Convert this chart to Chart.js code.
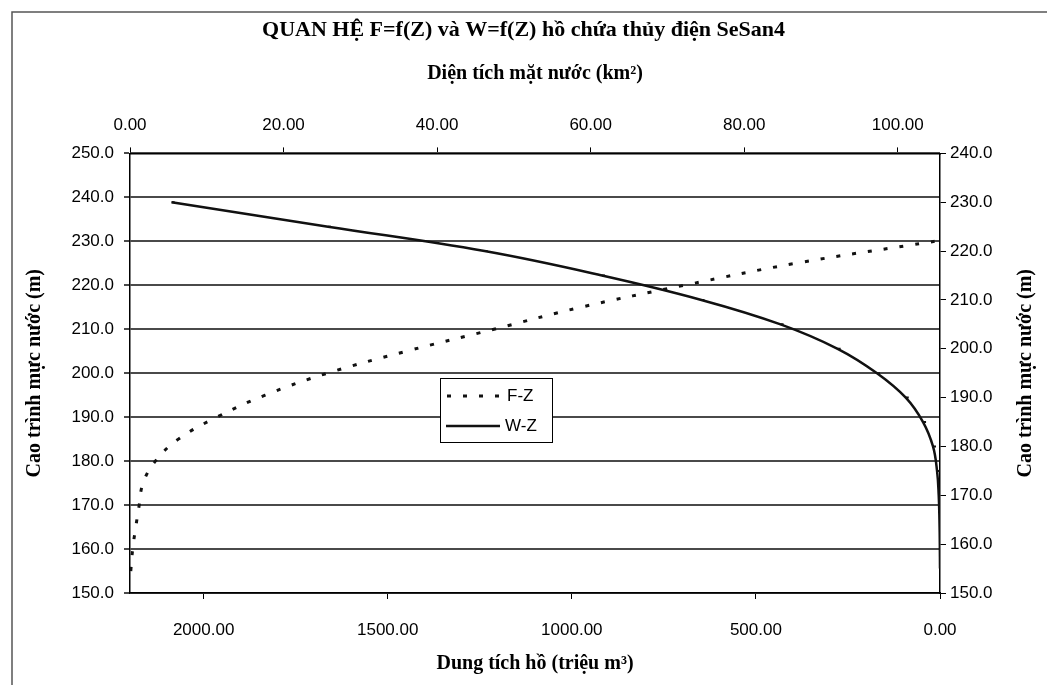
<!DOCTYPE html>
<html>
<head>
<meta charset="utf-8">
<script src="https://cdn.jsdelivr.net/npm/chart.js@4"></script>
<style>
  html, body { margin: 0; padding: 0; background: #fff; }
  #wrap { width: 1047px; height: 685px; position: relative; }
</style>
</head>
<body>
<div id="wrap"><canvas id="chartZ"></canvas></div>
<script>
// Cao trình mực nước (m) - dùng chung cho cả hai đường
const elevations = [155, 160, 165, 170, 175, 180, 185, 190, 195, 200, 205, 210, 215, 220, 225, 230];
// Diện tích mặt nước F (km2)
const areaKm2 = [0.1, 0.35, 0.75, 1.2, 1.7, 3.3, 6.3, 11.3, 17.6, 25.7, 36.0, 47.4, 58.7, 72.2, 86.7, 104.8];
// Dung tích hồ W (triệu m3)
const volumeMm3 = [0, 0.5, 1.5, 3.5, 8, 19, 46, 93, 171, 278, 433, 648, 918, 1237, 1662, 2087];

const topTicks = [0, 20, 40, 60, 80, 100];
const bottomTicks = [0, 500, 1000, 1500, 2000];

const serifBold = { family: '"Liberation Serif", "Times New Roman", serif', weight: 'bold', size: 20 };
const tickFont = { family: '"Liberation Sans", Arial, sans-serif', size: 17 };

const frameAndLegend = {
    id: 'frameAndLegend',
    beforeDraw(chart) {
        const ctx = chart.ctx;
        ctx.save();
        ctx.fillStyle = '#fff';
        ctx.fillRect(0, 0, chart.width, chart.height);
        ctx.strokeStyle = '#555';
        ctx.lineWidth = 1.5;
        ctx.beginPath();
        ctx.moveTo(12, chart.height);
        ctx.lineTo(12, 12);
        ctx.lineTo(chart.width, 12);
        ctx.stroke();
        ctx.restore();
    },
    afterDraw(chart) {
        const ctx = chart.ctx;
        const area = chart.chartArea;
        ctx.save();

        // tiêu đề trục phải
        ctx.translate(1026, (area.top + area.bottom) / 2);
        ctx.rotate(-Math.PI / 2);
        ctx.font = 'bold 20px "Liberation Serif", serif';
        ctx.fillStyle = '#000';
        ctx.textAlign = 'center';
        ctx.textBaseline = 'middle';
        ctx.fillText('Cao trình mực nước (m)', 0, 0);
        ctx.setTransform(1, 0, 0, 1, 0, 0);

        // chú thích
        const bx = 440, by = 378, bw = 112, bh = 64;
        ctx.fillStyle = '#fff';
        ctx.fillRect(bx, by, bw, bh);
        ctx.strokeStyle = '#000';
        ctx.lineWidth = 1;
        ctx.strokeRect(bx + 0.5, by + 0.5, bw, bh);

        ctx.strokeStyle = '#111';
        ctx.lineWidth = 3;
        ctx.setLineDash([4, 12]);
        ctx.beginPath();
        ctx.moveTo(447, 396);
        ctx.lineTo(505, 396);
        ctx.stroke();

        ctx.setLineDash([]);
        ctx.lineWidth = 2.5;
        ctx.beginPath();
        ctx.moveTo(446, 426);
        ctx.lineTo(500, 426);
        ctx.stroke();

        ctx.font = '17px "Liberation Sans", Arial, sans-serif';
        ctx.fillStyle = '#000';
        ctx.textAlign = 'left';
        ctx.textBaseline = 'middle';
        ctx.fillText('F-Z', 507, 396);
        ctx.fillText('W-Z', 505, 426);
        ctx.restore();
    }
};

const ctx = document.getElementById('chartZ').getContext('2d');
new Chart(ctx, {
    type: 'scatter',
    data: {
        datasets: [
            {
                label: 'F-Z',
                data: elevations.map((z, i) => ({ x: areaKm2[i], y: z })),
                xAxisID: 'xTop',
                yAxisID: 'yLeft',
                showLine: true,
                borderColor: '#111',
                borderWidth: 3,
                borderDash: [4, 12],
                tension: 0.4,
                pointRadius: 0
            },
            {
                label: 'W-Z',
                data: elevations.map((z, i) => ({ x: volumeMm3[i], y: z })),
                xAxisID: 'xBottom',
                yAxisID: 'yRight',
                showLine: true,
                borderColor: '#111',
                borderWidth: 2.5,
                tension: 0.4,
                pointStyle: 'dash',
                pointRadius: 3,
                pointBorderColor: '#111',
                pointBorderWidth: 2
            }
        ]
    },
    options: {
        responsive: true,
        maintainAspectRatio: false,
        animation: false,
        layout: { padding: 0 },
        plugins: {
            legend: { display: false },
            tooltip: { enabled: false },
            title: {
                display: true,
                text: 'QUAN HỆ F=f(Z) và W=f(Z) hồ chứa thủy điện SeSan4',
                color: '#000',
                font: { family: serifBold.family, weight: 'bold', size: 22 },
                padding: { top: 17, bottom: 8 }
            }
        },
        scales: {
            xTop: {
                axis: 'x',
                type: 'linear',
                position: 'top',
                min: 0,
                max: 105.5,
                afterBuildTicks: s => { s.ticks = topTicks.map(v => ({ value: v })); },
                ticks: { color: '#000', font: tickFont, padding: 12, callback: v => v.toFixed(2) },
                grid: { drawOnChartArea: false, tickLength: 6, color: '#000' },
                border: { color: '#000', width: 1.5 },
                title: { display: true, text: 'Diện tích mặt nước (km²)', color: '#000', font: serifBold, padding: { top: 10 } },
                afterFit: s => { s.height = 102; }
            },
            xBottom: {
                axis: 'x',
                type: 'linear',
                position: 'bottom',
                reverse: true,
                min: 0,
                max: 2200,
                afterBuildTicks: s => { s.ticks = bottomTicks.map(v => ({ value: v })); },
                ticks: { color: '#000', font: tickFont, padding: 21, callback: v => v.toFixed(2) },
                grid: { drawOnChartArea: false, tickLength: 6, color: '#000' },
                border: { color: '#000', width: 1.5 },
                title: { display: true, text: 'Dung tích hồ (triệu m³)', color: '#000', font: serifBold, padding: { bottom: 9 } },
                afterFit: s => { s.height = 92; }
            },
            yLeft: {
                axis: 'y',
                type: 'linear',
                position: 'left',
                min: 150,
                max: 250,
                ticks: { stepSize: 10, color: '#000', font: tickFont, padding: 10, callback: v => v.toFixed(1) },
                grid: { color: '#4a4a4a', lineWidth: 2, tickLength: 6 },
                border: { color: '#000', width: 1.5 },
                title: { display: true, text: 'Cao trình mực nước (m)', color: '#000', font: serifBold, padding: { top: 23 } },
                afterFit: s => { s.width = 130; }
            },
            yRight: {
                axis: 'y',
                type: 'linear',
                position: 'right',
                min: 150,
                max: 240,
                ticks: { stepSize: 10, color: '#000', font: tickFont, padding: 4, callback: v => v.toFixed(1) },
                grid: { drawOnChartArea: false, tickLength: 6, color: '#000' },
                border: { color: '#000', width: 1.5 },
                afterFit: s => { s.width = 107; }
            }
        }
    },
    plugins: [frameAndLegend]
});
</script>
</body>
</html>
